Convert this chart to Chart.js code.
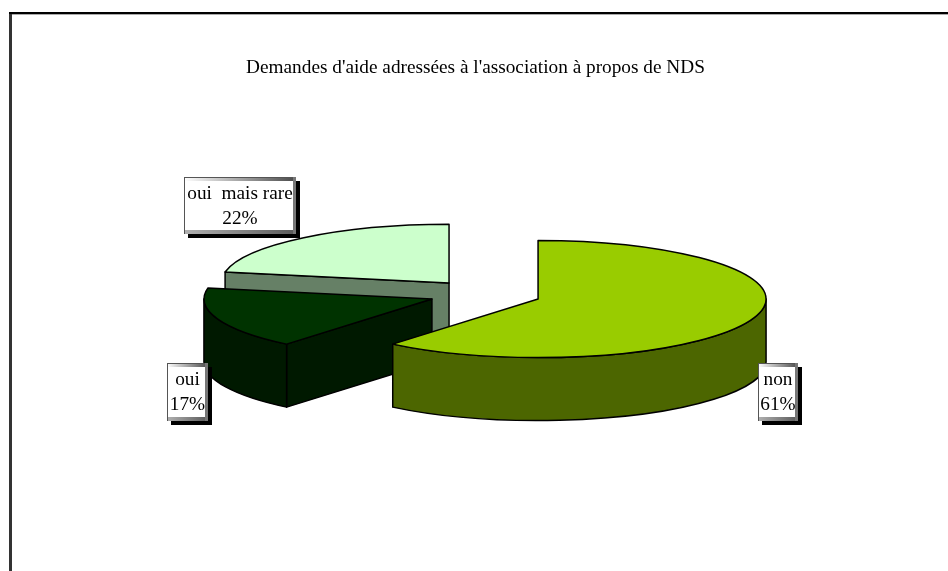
<!DOCTYPE html>
<html>
<head>
<meta charset="utf-8">
<title>Demandes d'aide</title>
<script src="https://cdn.jsdelivr.net/npm/chart.js@4/dist/chart.umd.min.js"></script>
<style>
    html, body { margin: 0; padding: 0; background: #fff; overflow: hidden; }
    canvas { display: block; }
</style>
</head>
<body>
<canvas id="pieChart" width="948" height="571"></canvas>
<script>
const chartTitle = "Demandes d'aide adressées à l'association à propos de NDS";
const categories = ['non', 'oui', 'oui  mais rare'];
const shares = [61, 17, 22];
const topColors = ['#99CC00', '#003300', '#CCFFCC'];
const wallColors = ['#4C6600', '#001900', '#668066'];

// fake 3D settings
const SQUISH = 0.257;
const DEPTH = 63;
const EXPLODE = 56.4;
const RADIUS = 228;
const PIE_SHIFT_X = 9.5; // title is centred a bit left of the pie
const FONT = '"Liberation Serif", "Times New Roman", serif';

// label boxes, same order as categories
const labelBoxes = [
    { x: 758, y: 363, w: 40, h: 58 },
    { x: 167, y: 363, w: 41, h: 58 },
    { x: 184, y: 177, w: 112, h: 57 }
];

function drawFrame(ctx) {
    ctx.fillStyle = '#333333';
    ctx.fillRect(9, 12, 3, 559);
    ctx.fillStyle = '#000000';
    ctx.fillRect(9, 12, 939, 2);
    ctx.fillStyle = '#aaaaaa';
    ctx.fillRect(12, 14, 936, 1);
}

function drawSlice(ctx, arc, i) {
    const { startAngle, endAngle, x, y } = arc;
    const mid = (startAngle + endAngle) / 2;
    const cx = x + PIE_SHIFT_X + Math.cos(mid) * EXPLODE;
    const cy = y + Math.sin(mid) * EXPLODE * SQUISH;
    const r = arc.outerRadius;
    const ry = r * SQUISH;

    ctx.lineWidth = 1.5;
    ctx.lineJoin = 'round';
    ctx.strokeStyle = '#000';
    ctx.fillStyle = wallColors[i];

    // straight walls facing the viewer
    const faces = [];
    if (Math.cos(startAngle) < -1e-6) faces.push(startAngle);
    if (Math.cos(endAngle) > 1e-6) faces.push(endAngle);
    faces.forEach(a => {
        const px = cx + Math.cos(a) * r;
        const py = cy + Math.sin(a) * ry;
        ctx.beginPath();
        ctx.moveTo(cx, cy);
        ctx.lineTo(px, py);
        ctx.lineTo(px, py + DEPTH);
        ctx.lineTo(cx, cy + DEPTH);
        ctx.closePath();
        ctx.fill();
        ctx.stroke();
    });

    // round wall, only the front half of the ellipse shows
    const a0 = Math.max(startAngle, 0);
    const a1 = Math.min(endAngle, Math.PI);
    if (a1 > a0) {
        ctx.beginPath();
        ctx.ellipse(cx, cy, r, ry, 0, a0, a1);
        ctx.ellipse(cx, cy + DEPTH, r, ry, 0, a1, a0, true);
        ctx.closePath();
        ctx.fill();
        ctx.stroke();
    }

    // top face
    ctx.fillStyle = topColors[i];
    ctx.beginPath();
    ctx.moveTo(cx, cy);
    ctx.ellipse(cx, cy, r, ry, 0, startAngle, endAngle);
    ctx.closePath();
    ctx.fill();
    ctx.stroke();
}

function drawLabel(ctx, box, lines) {
    const { x, y, w, h } = box;
    // drop shadow
    ctx.fillStyle = '#000';
    ctx.fillRect(x + 4, y + 4, w, h);

    ctx.fillStyle = '#fff';
    ctx.fillRect(x, y, w, h);

    // bevel edges
    const top = ctx.createLinearGradient(x, 0, x + w, 0);
    top.addColorStop(0, '#ffffff');
    top.addColorStop(1, '#4a4a4a');
    ctx.fillStyle = top;
    ctx.fillRect(x, y, w, 4);

    const bottom = ctx.createLinearGradient(x, 0, x + w, 0);
    bottom.addColorStop(0, '#b0b0b0');
    bottom.addColorStop(1, '#5a5a5a');
    ctx.fillStyle = bottom;
    ctx.fillRect(x, y + h - 4, w, 4);

    ctx.fillStyle = '#555555';
    ctx.fillRect(x, y, 1, h);
    ctx.fillRect(x, y, w, 1);
    ctx.fillStyle = '#777777';
    ctx.fillRect(x + w - 3, y, 3, h);

    ctx.fillStyle = '#000';
    ctx.font = '19.3px ' + FONT;
    ctx.textAlign = 'center';
    ctx.textBaseline = 'middle';
    ctx.fillText(lines[0], x + w / 2, y + h / 2 - 12);
    ctx.fillText(lines[1], x + w / 2, y + h / 2 + 13);
}

const pie3d = {
    id: 'pie3d',
    beforeDraw(chart) {
        const ctx = chart.ctx;
        ctx.save();
        ctx.fillStyle = '#fff';
        ctx.fillRect(0, 0, chart.width, chart.height);
        drawFrame(ctx);
        ctx.restore();
    },
    // replaces the flat arcs, angles still come from the controller
    beforeDatasetDraw(chart, args) {
        const ctx = chart.ctx;
        const arcs = args.meta.data;
        ctx.save();
        [2, 1, 0].forEach(i => drawSlice(ctx, arcs[i], i));
        ctx.restore();
        return false;
    },
    afterDatasetsDraw(chart) {
        const ctx = chart.ctx;
        ctx.save();
        categories.forEach((name, i) => {
            drawLabel(ctx, labelBoxes[i], [name, shares[i] + '%']);
        });
        ctx.restore();
    }
};

const pieChart = new Chart(document.getElementById('pieChart').getContext('2d'), {
    type: 'pie',
    data: {
        labels: categories,
        datasets: [{
            data: shares,
            backgroundColor: topColors,
            radius: RADIUS,
            borderWidth: 0
        }]
    },
    options: {
        responsive: false,
        animation: false,
        events: [],
        layout: { padding: { left: 3, top: 0, bottom: 69, right: 0 } },
        plugins: {
            legend: { display: false },
            tooltip: { enabled: false },
            title: {
                display: true,
                text: chartTitle,
                color: '#000',
                font: { family: FONT, size: 19.3, weight: 'normal' },
                padding: { top: 56, bottom: 7 }
            }
        }
    },
    plugins: [pie3d]
});
</script>
</body>
</html>
